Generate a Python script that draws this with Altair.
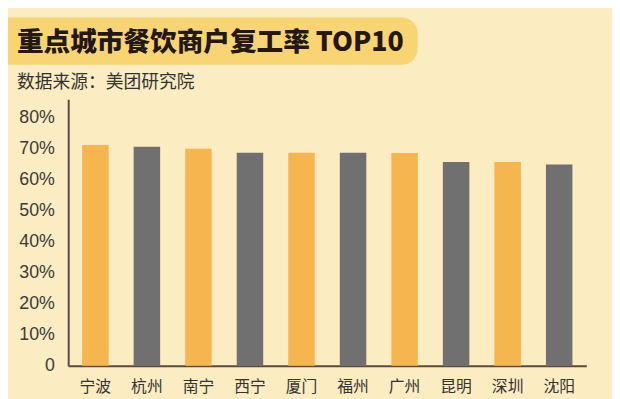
import altair as alt
import pandas as pd

cities = ["宁波", "杭州", "南宁", "西宁", "厦门", "福州", "广州", "昆明", "深圳", "沈阳"]
rates = [0.713, 0.707, 0.701, 0.688, 0.688, 0.688, 0.687, 0.658, 0.658, 0.650]
groups = ["a", "b", "a", "b", "a", "b", "a", "b", "a", "b"]
y_ticks = [0, 0.1, 0.2, 0.3, 0.4, 0.5, 0.6, 0.7, 0.8]
title_text = ["重点城市餐饮商户复工率 TOP10"]
subtitle_text = ["数据来源：美团研究院"]

BG = "#FBECC2"
ORANGE = "#F5B54F"
GRAY = "#707070"
BOX = "#F8D473"
AXIS = "#5A4B3D"

df = pd.DataFrame({"city": cities, "rate": rates, "grp": groups})

bars = alt.Chart(df).mark_bar().encode(
    x=alt.X("city:N", sort=cities,
            scale=alt.Scale(paddingInner=0.486, paddingOuter=0.27),
            axis=alt.Axis(title=None, labelAngle=0, ticks=False, labelPadding=13,
                          labelFont="Noto Sans CJK SC", labelFontSize=16,
                          labelColor="#333333", domainColor=AXIS, domainWidth=2)),
    y=alt.Y("rate:Q", scale=alt.Scale(domain=[0, 0.86], nice=False),
            axis=alt.Axis(title=None, values=y_ticks, grid=False, ticks=False,
                          labelPadding=14, labelFont="Liberation Sans", labelFontSize=18,
                          labelColor="#3A3A3A", domainColor=AXIS, domainWidth=2,
                          labelExpr="datum.value == 0 ? '0' : format(datum.value, '.0%')")),
    color=alt.Color("grp:N", scale=alt.Scale(domain=["a", "b"], range=[ORANGE, GRAY]), legend=None),
)

box = alt.Chart(pd.DataFrame({"t": title_text})).mark_rect(
    color=BOX, cornerRadius=16
).encode(x=alt.value(-90), x2=alt.value(354), y=alt.value(-83), y2=alt.value(-35))

title = alt.Chart(pd.DataFrame({"t": title_text})).mark_text(
    align="left", baseline="middle", font="Noto Sans CJK SC", fontWeight=900,
    fontSize=27, color="#231815"
).encode(text="t:N", x=alt.value(-52), y=alt.value(-57))

subtitle = alt.Chart(pd.DataFrame({"t": subtitle_text})).mark_text(
    align="left", baseline="middle", font="Noto Sans CJK SC", fontSize=18,
    color="#333333"
).encode(text="t:N", x=alt.value(-52), y=alt.value(-17))

chart = alt.layer(box, title, subtitle, bars).properties(
    width=525, height=270,
    background=BG,
    padding={"left": 61, "top": 90, "right": 26, "bottom": 31},
    autosize=alt.AutoSizeParams(type="none"),
).configure_view(stroke=None)

chart.save("out.html", embed_options={"renderer": "svg", "actions": False})
